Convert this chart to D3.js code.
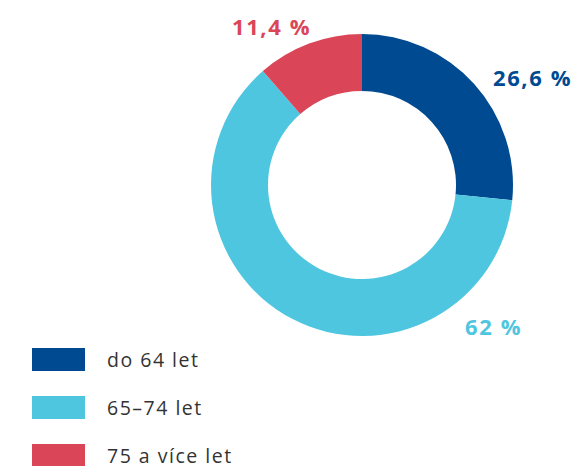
<!DOCTYPE html>
<html>
<head>
<meta charset="utf-8">
<script src="https://cdn.jsdelivr.net/npm/d3@7"></script>
<style>
  body { margin: 0; background: #fff; }
  svg { display: block; }
</style>
</head>
<body>
<svg id="chart" width="576" height="466"></svg>
<script>
// data
const categories = ["do 64 let", "65–74 let", "75 a více let"];
const values = [26.6, 62, 11.4];
const valueLabels = ["26,6 %", "62 %", "11,4 %"];
const colors = ["#004a91", "#4fc6df", "#da4658"];

const svg = d3.select("#chart");
const cx = 362, cy = 185;
const outerR = 151, innerR = 94;

const pie = d3.pie().sort(null).value(d => d.value);
const arc = d3.arc().innerRadius(innerR).outerRadius(outerR);

const slices = pie(values.map((v, i) => ({ value: v, i: i })));

const g = svg.append("g").attr("transform", "translate(" + cx + "," + cy + ")");

g.selectAll("path")
  .data(slices)
  .enter()
  .append("path")
  .attr("d", arc)
  .attr("fill", d => colors[d.data.i]);

// value labels, placed by hand like the original
const labelPos = [
  { x: 131, y: -99 },
  { x: 103, y: 150 },
  { x: -130, y: -150 }
];

g.selectAll(".value-label")
  .data(slices)
  .enter()
  .append("text")
  .attr("class", "value-label")
  .attr("x", d => labelPos[d.data.i].x)
  .attr("y", d => labelPos[d.data.i].y)
  .style("font-family", "'Open Sans', sans-serif")
  .style("font-weight", 700)
  .style("font-size", "22px")
  .style("letter-spacing", "1.6px")
  .style("fill", d => colors[d.data.i])
  .text(d => valueLabels[d.data.i]);

// legend
const legend = svg.append("g").attr("transform", "translate(32,348)");
const row = legend.selectAll("g")
  .data(categories)
  .enter()
  .append("g")
  .attr("transform", (d, i) => "translate(0," + i * 48 + ")");

row.append("rect")
  .attr("width", 53)
  .attr("height", 23)
  .attr("fill", (d, i) => colors[i]);

row.append("text")
  .attr("x", 75)
  .attr("y", 18.5)
  .style("font-family", "'Open Sans', sans-serif")
  .style("font-size", "19.5px")
  .style("letter-spacing", "1.5px")
  .style("fill", "#333")
  .text(d => d);
</script>
</body>
</html>
